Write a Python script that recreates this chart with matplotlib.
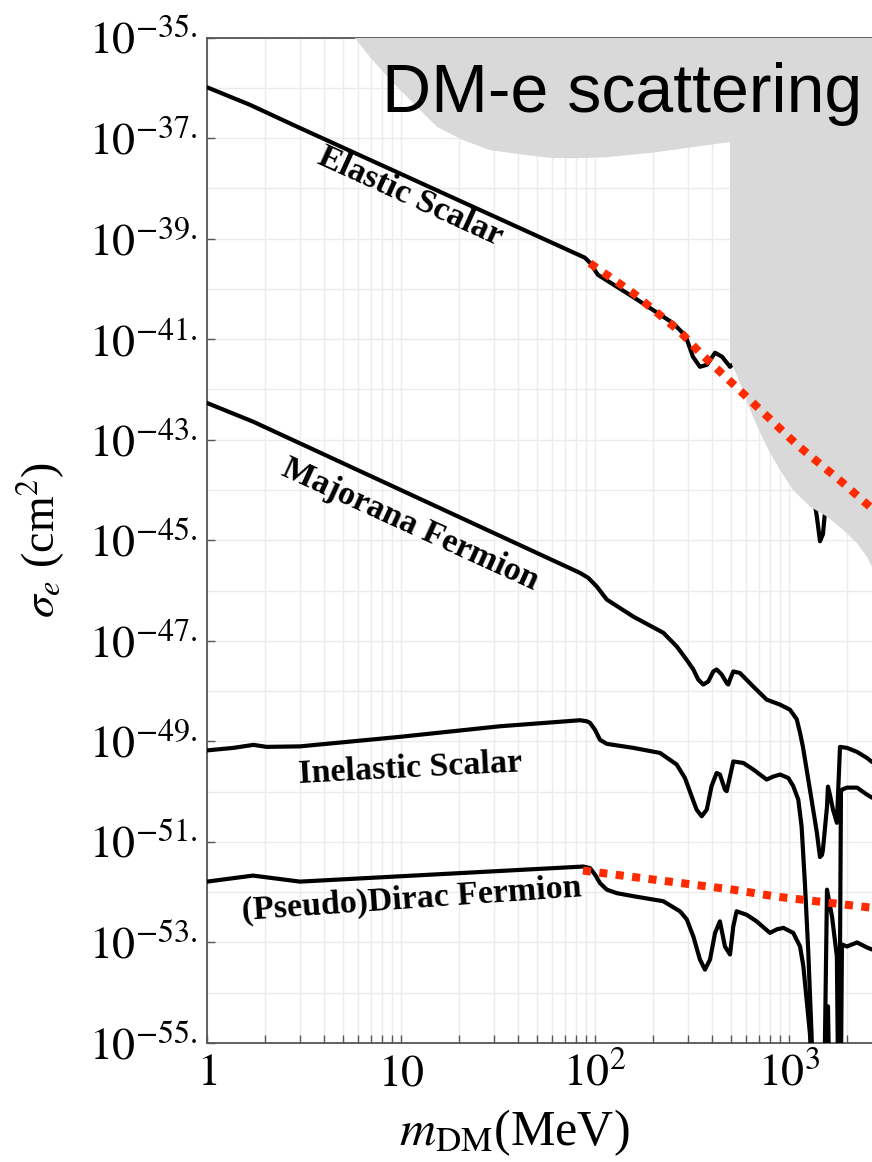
import numpy as np
import matplotlib
matplotlib.use('Agg')
import matplotlib.pyplot as plt
from matplotlib.ticker import NullFormatter

plt.rcParams['font.family'] = ['Liberation Serif', 'DejaVu Serif']
plt.rcParams['mathtext.fontset'] = 'stix'

# all values are log10(m_DM / MeV) and log10(sigma_e / cm^2)
elastic_logm = [0.000, 0.222, 0.479, 1.948, 1.974, 2.015, 2.196, 2.299, 2.402, 2.448,
                2.474, 2.505, 2.541, 2.577, 2.619, 2.655, 2.696, 2.747, 2.816, 2.885,
                2.954, 3.005, 3.040, 3.057, 3.072, 3.108, 3.144, 3.160, 3.175, 3.196,
                3.201, 3.227, 3.247, 3.263, 3.299, 3.351, 3.402, 3.428]
elastic_logsig = [-35.99, -36.34, -36.80, -39.38, -39.48, -39.72, -40.16, -40.42, -40.68, -40.86,
                  -41.01, -41.35, -41.55, -41.51, -41.27, -41.35, -41.55, -41.36, -41.63, -41.89,
                  -41.99, -42.09, -42.28, -42.55, -42.83, -43.68, -44.54, -45.02, -44.88, -44.02,
                  -43.62, -44.08, -44.34, -42.83, -42.85, -42.93, -43.05, -43.13]

majorana_logm = [0.000, 0.237, 1.923, 1.966, 2.009, 2.061, 2.198, 2.352, 2.421, 2.473,
                 2.507, 2.532, 2.558, 2.584, 2.610, 2.627, 2.653, 2.679, 2.687, 2.696,
                 2.713, 2.747, 2.816, 2.885, 2.954, 3.005, 3.040, 3.057, 3.072, 3.108,
                 3.144, 3.155, 3.160, 3.170, 3.175, 3.196, 3.201, 3.211, 3.227, 3.247,
                 3.263, 3.299, 3.351, 3.402, 3.428]
majorana_logsig = [-42.27, -42.64, -45.65, -45.75, -45.92, -46.18, -46.52, -46.84, -47.11, -47.38,
                   -47.57, -47.77, -47.87, -47.81, -47.61, -47.57, -47.67, -47.84, -47.87, -47.77,
                   -47.61, -47.64, -47.91, -48.17, -48.27, -48.37, -48.56, -48.83, -49.11, -49.96,
                   -50.82, -51.16, -51.30, -51.26, -51.16, -50.30, -49.90, -50.06, -50.36, -50.62,
                   -49.11, -49.13, -49.21, -49.33, -49.41]

inelastic_logm = [0.000, 0.136, 0.239, 0.308, 0.479, 0.995, 1.510, 1.923, 1.957, 1.974,
                  2.000, 2.026, 2.061, 2.198, 2.335, 2.421, 2.464, 2.498, 2.524, 2.550,
                  2.576, 2.601, 2.627, 2.644, 2.670, 2.679, 2.696, 2.713, 2.765, 2.816,
                  2.885, 2.919, 2.954, 2.997, 3.022, 3.048, 3.065, 3.082, 3.099, 3.116,
                  3.130, 3.191, 3.201, 3.211, 3.258, 3.268, 3.273, 3.299, 3.351, 3.402,
                  3.428]
inelastic_logsig = [-49.18, -49.13, -49.07, -49.11, -49.10, -48.91, -48.70, -48.58, -48.60, -48.63,
                    -48.77, -48.97, -49.05, -49.13, -49.23, -49.46, -49.73, -50.09, -50.36, -50.49,
                    -50.36, -49.89, -49.63, -49.66, -49.96, -49.99, -49.70, -49.40, -49.43, -49.56,
                    -49.76, -49.70, -49.66, -49.73, -49.89, -50.16, -50.69, -51.81, -53.14, -54.79,
                    -56.50, -56.50, -54.27, -56.50, -56.50, -50.00, -49.96, -49.92, -49.92, -50.06,
                    -50.12]

dirac_logm = [0.000, 0.237, 0.479, 1.940, 1.974, 2.000, 2.026, 2.061, 2.113, 2.198,
              2.352, 2.438, 2.473, 2.507, 2.541, 2.567, 2.593, 2.619, 2.644, 2.670,
              2.696, 2.713, 2.730, 2.782, 2.833, 2.902, 2.937, 2.971, 3.022, 3.057,
              3.074, 3.091, 3.108, 3.130, 3.180, 3.196, 3.222, 3.247, 3.255, 3.266,
              3.273, 3.299, 3.351, 3.402, 3.428]
dirac_logsig = [-51.79, -51.67, -51.79, -51.49, -51.52, -51.65, -51.82, -51.95, -52.02, -52.08,
                -52.18, -52.38, -52.54, -52.88, -53.34, -53.54, -53.34, -52.81, -52.58, -53.08,
                -53.24, -52.68, -52.38, -52.45, -52.58, -52.81, -52.74, -52.71, -52.81, -53.08,
                -53.47, -54.14, -54.81, -56.50, -56.50, -51.95, -52.49, -53.28, -56.50, -56.50,
                -53.04, -53.08, -53.00, -53.10, -53.14]

# red dotted lines
red_hi_logm = [1.974, 2.196, 2.438, 2.541, 2.799, 3.041, 3.278, 3.428]
red_hi_logsig = [-39.49, -40.08, -40.85, -41.27, -42.21, -43.10, -43.86, -44.37]
red_lo_logm = [1.938, 2.711, 2.938, 3.428]
red_lo_logsig = [-51.57, -51.95, -52.09, -52.31]

# excluded region (grey)
grey_logm = [0.75, 0.840, 0.959, 1.082, 1.186, 1.320, 1.459, 1.649, 1.784, 1.923, 2.062, 2.320,
             2.505, 2.696, 2.696, 2.747, 2.799, 2.851, 2.902, 2.954, 3.021, 3.108, 3.196, 3.278,
             3.351, 3.402, 3.428, 3.45, 3.45, 0.70]
grey_logsig = [-34.95, -35.39, -35.90, -36.38, -36.78, -37.04, -37.24, -37.34, -37.40, -37.40,
               -37.38, -37.28, -37.18, -37.08, -41.41, -41.87, -42.40, -42.86, -43.26, -43.60,
               -44.00, -44.33, -44.53, -44.79, -45.06, -45.33, -45.53, -45.80, -34.5, -34.5]

xtick_vals = [1, 10, 100, 1000]
xtick_labels = ['$1$', '$10$', '$10^2$', '$10^3$']
ytick_exps = list(range(-55, -34, 2))

W, H = 872, 1162
fig = plt.figure(figsize=(W / 100, H / 100), dpi=100)
ax = fig.add_axes([207 / W, 1 - 1043 / H, 665 / W, (1043 - 37.5) / H])

ax.fill(10 ** np.array(grey_logm), 10 ** np.array(grey_logsig), color='#d9d9d9', lw=0, zorder=4)

for lm, ls in [(elastic_logm, elastic_logsig), (majorana_logm, majorana_logsig),
               (inelastic_logm, inelastic_logsig), (dirac_logm, dirac_logsig)]:
    ax.plot(10 ** np.array(lm), 10 ** np.array(ls), color='black', lw=3.0,
            solid_joinstyle='round', solid_capstyle='round', zorder=3)

for lm, ls in [(red_hi_logm, red_hi_logsig), (red_lo_logm, red_lo_logsig)]:
    ax.plot(10 ** np.array(lm), 10 ** np.array(ls), color='#ff2a00', lw=5.8,
            ls=(0, (1, 1.05)), dash_capstyle='butt', zorder=5)

ax.set_xscale('log')
ax.set_yscale('log')
ax.set_xlim(1, 10 ** 3.428)
ax.set_ylim(1e-55, 1e-35)

ax.set_xticks(xtick_vals, labels=xtick_labels)
ax.set_xticks([k * 10 ** d for d in range(0, 4) for k in range(2, 10) if k * 10 ** d < 10 ** 3.428],
              minor=True)
ax.xaxis.set_minor_formatter(NullFormatter())
ax.set_yticks([10.0 ** e for e in ytick_exps], labels=[r'$10^{%d.}$' % e for e in ytick_exps])
ax.set_yticks([10.0 ** e for e in range(-54, -35, 2)], minor=True)
ax.yaxis.set_minor_formatter(NullFormatter())

ax.tick_params(which='both', direction='in', color='#555555', width=1.0, length=6,
               labelsize=33, pad=7, top=False, right=False)
ax.tick_params(axis='y', which='minor', length=0)

ax.set_axisbelow(True)
ax.grid(True, which='both', color='#ebebeb', lw=1.0)
for s in ['top', 'left', 'bottom']:
    ax.spines[s].set_color('#555555')
    ax.spines[s].set_linewidth(1.3)
ax.spines['right'].set_visible(False)

ax.set_xlabel(r'$m_{\mathrm{DM}}$(MeV)', fontsize=36)
ax.xaxis.set_label_coords((514 - 207) / 665, -0.064)
ax.set_ylabel(r'$\sigma_e$ (cm$^2$)', fontsize=33)
ax.yaxis.set_label_coords(-0.21, 0.5)

lab = dict(fontsize=24.5, fontweight='bold', ha='center', va='center', rotation_mode='anchor', zorder=6)
ax.text(10 ** 1.046, 10 ** -38.17, 'Elastic Scalar', rotation=-24.5, **lab)
ax.text(10 ** 1.046, 10 ** -44.69, 'Majorana Fermion', rotation=-24.5, **lab)
ax.text(10 ** 1.046, 10 ** -49.54, 'Inelastic Scalar', rotation=3, **lab)
ax.text(10 ** 1.057, 10 ** -52.15, '(Pseudo)Dirac Fermion', rotation=4, **lab)

fig.text(382 / W, 1 - 112 / H, 'DM-e scattering', family='Liberation Sans', fontsize=49,
         ha='left', va='baseline')

fig.savefig('out.png', dpi=100)
